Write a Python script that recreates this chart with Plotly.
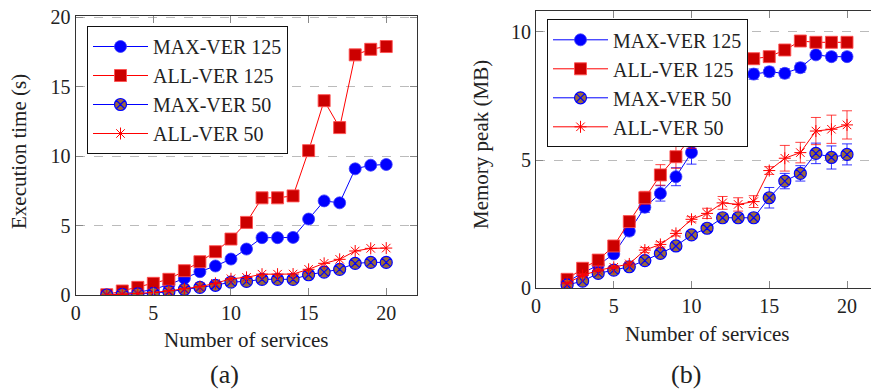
import plotly.graph_objects as go

services = list(range(2, 21))

# (a) Execution time (s)
exec_max125 = [0.0, 0.1, 0.2, 0.4, 0.75, 1.2, 1.68, 2.09, 2.59, 3.31, 4.13, 4.13, 4.15, 5.47, 6.78, 6.64, 9.09, 9.35, 9.4]
exec_all125 = [0.02, 0.29, 0.55, 0.84, 1.13, 1.75, 2.4, 3.12, 4.03, 5.23, 7.0, 7.0, 7.14, 10.4, 14.0, 12.06, 17.3, 17.7, 17.9]
exec_max50 = [0.0, 0.04, 0.08, 0.12, 0.24, 0.4, 0.55, 0.7, 0.93, 0.98, 1.13, 1.13, 1.13, 1.46, 1.65, 1.85, 2.28, 2.35, 2.35]
exec_all50 = [0.0, 0.05, 0.1, 0.18, 0.3, 0.45, 0.6, 0.84, 1.17, 1.27, 1.5, 1.5, 1.51, 1.85, 2.28, 2.57, 3.17, 3.36, 3.38]

# (b) Memory peak (MB) with error bars
mem_max125 = [0.25, 0.6, 0.9, 1.34, 2.23, 3.16, 3.7, 4.35, 5.29, 6.3, 7.5, 8.0, 8.35, 8.44, 8.38, 8.6, 9.1, 9.03, 9.03]
err_max125 = [0.05, 0.08, 0.1, 0.12, 0.15, 0.2, 0.3, 0.35, 0.45, 0.4, 0.35, 0.3, 0.2, 0.18, 0.18, 0.18, 0.15, 0.15, 0.15]
mem_all125 = [0.35, 0.78, 1.1, 1.65, 2.6, 3.53, 4.42, 5.13, 5.91, 6.9, 8.0, 8.6, 8.95, 9.03, 9.29, 9.64, 9.59, 9.59, 9.59]
err_all125 = [0.05, 0.08, 0.1, 0.12, 0.15, 0.25, 0.4, 0.45, 0.45, 0.4, 0.35, 0.3, 0.2, 0.15, 0.15, 0.12, 0.12, 0.12, 0.12]
mem_max50 = [0.13, 0.28, 0.58, 0.71, 0.84, 1.08, 1.36, 1.65, 2.08, 2.34, 2.75, 2.75, 2.75, 3.53, 4.18, 4.48, 5.26, 5.1, 5.22]
err_max50 = [0.03, 0.05, 0.05, 0.05, 0.05, 0.05, 0.08, 0.08, 0.08, 0.1, 0.15, 0.15, 0.15, 0.4, 0.3, 0.3, 0.4, 0.45, 0.41]
mem_all50 = [0.2, 0.5, 0.7, 0.82, 0.95, 1.49, 1.71, 2.14, 2.69, 2.92, 3.33, 3.27, 3.38, 4.59, 5.07, 5.29, 6.13, 6.2, 6.37]
err_all50 = [0.03, 0.05, 0.05, 0.05, 0.08, 0.1, 0.1, 0.1, 0.1, 0.2, 0.25, 0.26, 0.23, 0.15, 0.5, 0.4, 0.53, 0.55, 0.55]

names = ["MAX-VER 125", "ALL-VER 125", "MAX-VER 50", "ALL-VER 50"]
x_ticks = [0, 5, 10, 15, 20]
ya_ticks = [0, 5, 10, 15, 20]
yb_ticks = [0, 5, 10]

W, H = 871, 392
FONT = "Liberation Serif"
BLUE = "#0000ff"
RED = "#ff0000"
BROWN = "#9a6a3c"

styles = [
    dict(line=dict(color=BLUE, width=1),
         marker=dict(symbol="circle", size=12, color=BLUE, line=dict(color="rgba(60,60,255,0.8)", width=1))),
    dict(line=dict(color=RED, width=1),
         marker=dict(symbol="square", size=12, color="#cc0000", line=dict(color="rgba(255,80,80,0.9)", width=1))),
    dict(line=dict(color=BLUE, width=1),
         marker=dict(symbol="circle-x", size=12, color=BROWN, line=dict(color=BLUE, width=1.2))),
    dict(line=dict(color=RED, width=1),
         marker=dict(symbol="asterisk-open", size=10, color=RED, line=dict(color=RED, width=1))),
]

fig = go.Figure()

for name, ys, st in zip(names, [exec_max125, exec_all125, exec_max50, exec_all50], styles):
    fig.add_trace(go.Scatter(x=services, y=ys, name=name, mode="lines+markers",
                             xaxis="x", yaxis="y", legend="legend", **st))

err_colors = ["rgba(0,0,255,0.8)", "rgba(255,0,0,0.75)", "rgba(0,0,255,0.8)", "rgba(255,0,0,0.75)"]
for name, ys, es, st, ec in zip(names, [mem_max125, mem_all125, mem_max50, mem_all50],
                                [err_max125, err_all125, err_max50, err_all50], styles, err_colors):
    fig.add_trace(go.Scatter(x=services, y=ys, name=name, mode="lines+markers",
                             error_y=dict(type="data", array=es, color=ec, thickness=1, width=5),
                             xaxis="x2", yaxis="y2", legend="legend2", **st))

def px_x(p):
    return p / W

def px_y(p):
    return (H - p) / H

tickfont = dict(family=FONT, size=20, color="#222")
axcommon = dict(showline=True, linecolor="#333", linewidth=1.2, ticks="inside", ticklen=7,
                tickcolor="#888", tickwidth=1, tickfont=tickfont, zeroline=False, automargin=False)

legfont = dict(family=FONT, size=20, color="#222")

fig.update_layout(
    width=W, height=H, margin=dict(l=0, r=0, t=0, b=0, autoexpand=False),
    paper_bgcolor="white", plot_bgcolor="white",
    font=dict(family=FONT, size=20, color="#222"),
    xaxis=dict(domain=[px_x(75.7), px_x(417.3)], range=[0, 22], tickvals=x_ticks, mirror="ticks",
               showgrid=False, anchor="y", **axcommon),
    yaxis=dict(domain=[px_y(295), px_y(16)], range=[0, 20.1], tickvals=ya_ticks, mirror="ticks",
               showgrid=True, gridcolor="#bbbbbb", griddash="dash", gridwidth=1, anchor="x", **axcommon),
    xaxis2=dict(domain=[px_x(536), 1.0], range=[0, (W - 536) / 15.55], tickvals=x_ticks, mirror="ticks",
                showgrid=False, anchor="y2", **axcommon),
    yaxis2=dict(domain=[px_y(288.3), px_y(11)], range=[0, 10.81], tickvals=yb_ticks, mirror=False,
                showgrid=True, gridcolor="#bbbbbb", griddash="dash", gridwidth=1, anchor="x2", **axcommon),
    legend=dict(x=px_x(87), y=px_y(26), xanchor="left", yanchor="top", bgcolor="white",
                bordercolor="#111", borderwidth=1, font=legfont, itemwidth=55, tracegroupgap=0,
                entrywidth=150, entrywidthmode="pixels"),
    legend2=dict(x=px_x(547), y=px_y(19.3), xanchor="left", yanchor="top", bgcolor="white",
                 bordercolor="#111", borderwidth=1, font=legfont, itemwidth=55, tracegroupgap=0,
                 entrywidth=150, entrywidthmode="pixels"),
    showlegend=True,
)

annots = [
    dict(text="Number of services", x=px_x(246), y=px_y(340), size=21, angle=0),
    dict(text="Number of services", x=px_x(707), y=px_y(334), size=21, angle=0),
    dict(text="Execution time (s)", x=px_x(19), y=px_y(152), size=21, angle=-90),
    dict(text="Memory peak (MB)", x=px_x(481), y=px_y(145), size=21, angle=-90),
    dict(text="(a)", x=px_x(225), y=px_y(374), size=26, angle=0),
    dict(text="(b)", x=px_x(686), y=px_y(374), size=26, angle=0),
]
for a in annots:
    fig.add_annotation(text=a["text"], x=a["x"], y=a["y"], xref="paper", yref="paper",
                       xanchor="center", yanchor="middle", showarrow=False, textangle=a["angle"],
                       font=dict(family=FONT, size=a["size"], color="#222"))

fig.write_html("out.html", config={"displayModeBar": False},
               post_script="document.body.style.margin='0';document.body.style.overflow='hidden';")
